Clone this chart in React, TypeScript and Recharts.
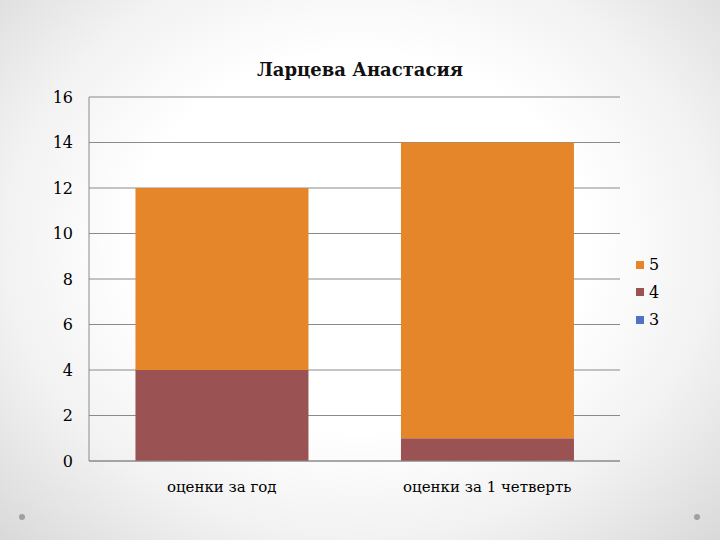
import React from 'react';
import { BarChart, Bar, XAxis, YAxis, CartesianGrid, Legend } from 'recharts';

const categories = ['оценки за год', 'оценки за 1 четверть'];
const grade3 = [0, 0];
const grade4 = [4, 1];
const grade5 = [8, 13];
const yTicks = [0, 2, 4, 6, 8, 10, 12, 14, 16];

const seriesNames = ['3', '4', '5'];
const seriesColors = ['#4F72C2', '#9B5252', '#E6862A'];

const data = categories.map((c, i) => ({
  name: c,
  g3: grade3[i],
  g4: grade4[i],
  g5: grade5[i],
}));

const FONT = "'DejaVu Serif', 'Liberation Serif', 'Times New Roman', Times, serif";

const LegendContent = (props: any) => {
  const items = [...(props.payload || [])].reverse();
  return (
    <div style={{ fontFamily: FONT, fontSize: 16, color: '#000' }}>
      {items.map((it: any) => (
        <div key={it.value} style={{ display: 'flex', alignItems: 'center', height: 27.5 }}>
          <span style={{ display: 'inline-block', width: 8, height: 8, background: it.color, marginRight: 5 }} />
          <span>{it.value}</span>
        </div>
      ))}
    </div>
  );
};

export default function App() {
  return (
    <div
      style={{
        position: 'absolute',
        left: 0,
        top: 0,
        width: 720,
        height: 540,
        overflow: 'hidden',
        background: 'radial-gradient(ellipse at 50% 45%, #ffffff 45%, #f2f2f2 70%, #d9d9d9 100%)',
      }}
    >
      <div
        style={{
          position: 'absolute',
          left: 0,
          width: 720,
          top: 59,
          textAlign: 'center',
          fontFamily: FONT,
          fontSize: 18,
          fontWeight: 'bold',
          color: '#111',
        }}
      >
        Ларцева Анастасия
      </div>
      <div style={{ position: 'absolute', left: 0, top: 0 }}>
        <BarChart
          width={720}
          height={540}
          data={data}
          margin={{ top: 97, right: 40, bottom: 44, left: 0 }}
          barCategoryGap="17.5%"
        >
          <CartesianGrid vertical={false} stroke="#8a8a8a" strokeWidth={1} />
          <XAxis
            dataKey="name"
            axisLine={{ stroke: '#8a8a8a' }}
            tickLine={false}
            height={35}
            tickMargin={14}
            tick={{ fontFamily: FONT, fontSize: 15, fill: '#000' }}
          />
          <YAxis
            domain={[0, 16]}
            ticks={yTicks}
            interval={0}
            width={89}
            axisLine={{ stroke: '#8a8a8a' }}
            tickLine={false}
            tickSize={0}
            tickMargin={16}
            tick={{ fontFamily: FONT, fontSize: 16, fill: '#000' }}
          />
          <Legend
            layout="vertical"
            align="right"
            verticalAlign="top"
            content={<LegendContent />}
            wrapperStyle={{ left: 636, top: 251, width: 60 }}
          />
          <Bar dataKey="g3" name={seriesNames[0]} stackId="a" fill={seriesColors[0]} isAnimationActive={false} />
          <Bar dataKey="g4" name={seriesNames[1]} stackId="a" fill={seriesColors[1]} isAnimationActive={false} />
          <Bar dataKey="g5" name={seriesNames[2]} stackId="a" fill={seriesColors[2]} isAnimationActive={false} />
        </BarChart>
      </div>
      <div style={{ position: 'absolute', left: 19, top: 514, width: 6, height: 6, borderRadius: 3, background: '#a0a0a0' }} />
      <div style={{ position: 'absolute', left: 694, top: 514, width: 6, height: 6, borderRadius: 3, background: '#a0a0a0' }} />
    </div>
  );
}
